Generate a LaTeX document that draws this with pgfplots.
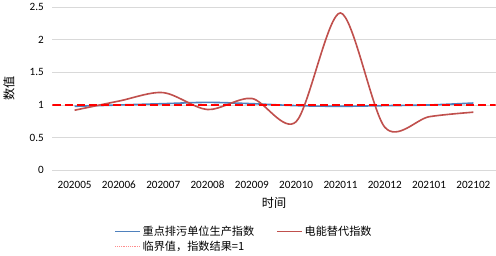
\documentclass[border=0pt]{standalone}
\usepackage{fontspec}
\setmainfont{Carlito}
\newfontfamily\cjk{Noto Sans CJK SC}
\usepackage{pgfplots}
\pgfplotsset{compat=1.18}
\definecolor{exblue}{HTML}{4F81BD}
\definecolor{exred}{HTML}{C0504D}
\definecolor{gridc}{HTML}{D9D9D9}
\begin{document}
\begin{tikzpicture}
\begin{axis}[
  scale only axis,
  width=437pt, height=161pt,
  xmin=-0.5, xmax=9.5,
  ymin=0, ymax=2.5,
  ytick={0,0.5,1,1.5,2,2.5},
  xtick={0,...,9},
  xticklabels={202005,202006,202007,202008,202009,202010,202011,202012,202101,202102},
  /pgf/number format/assume math mode=true,
  ticklabel style={font=\fontsize{11}{13}\selectfont},
  major tick length=0pt,
  axis line style={draw=none},
  ymajorgrids,
  grid style={gridc, line width=0.9pt},
  yticklabel style={xshift=-5pt},
  xticklabel style={yshift=-7pt},
  xlabel={\cjk 时间},
  ylabel={\cjk 数值},
  xlabel style={font=\fontsize{12}{14}\selectfont, yshift=-2pt},
  ylabel style={font=\fontsize{12}{14}\selectfont, yshift=8pt},
  legend columns=2,
  legend style={draw=none, fill=none, font=\cjk\fontsize{11}{13}\selectfont,
    at={(axis description cs:0.1327,-0.315)}, anchor=north west,
    /tikz/every even column/.append style={column sep=20pt},
    row sep=0pt},
  legend cell align=left,
  legend image code/.code={\draw[#1] (0cm,0cm) -- (0.85cm,0cm);},
]
\addplot[exblue, line width=1.6pt, smooth, forget plot] coordinates {
(0,0.98) (1,1.00) (2,1.02) (3,1.04) (4,1.02) (5,0.99) (6,0.98) (7,0.99) (8,1.00) (9,1.03)};
\addplot[exred, line width=1.6pt, smooth, forget plot] coordinates {
(0,0.92) (1,1.06) (2,1.19) (3,0.93) (4,1.10) (5,0.745) (6,2.41) (7,0.66) (8,0.82) (9,0.89)};
\addplot[red, line width=1.3pt, dash pattern=on 8pt off 4pt, forget plot] coordinates {(-0.5,1) (9.5,1)};
\addlegendimage{draw=exblue, line width=1.6pt}
\addlegendentry{重点排污单位生产指数}
\addlegendimage{draw=exred, line width=1.6pt}
\addlegendentry{电能替代指数}
\addlegendimage{draw=red!45, line width=0.8pt, densely dotted}
\addlegendentry{临界值，指数结果=1}
\end{axis}
\end{tikzpicture}
\end{document}
